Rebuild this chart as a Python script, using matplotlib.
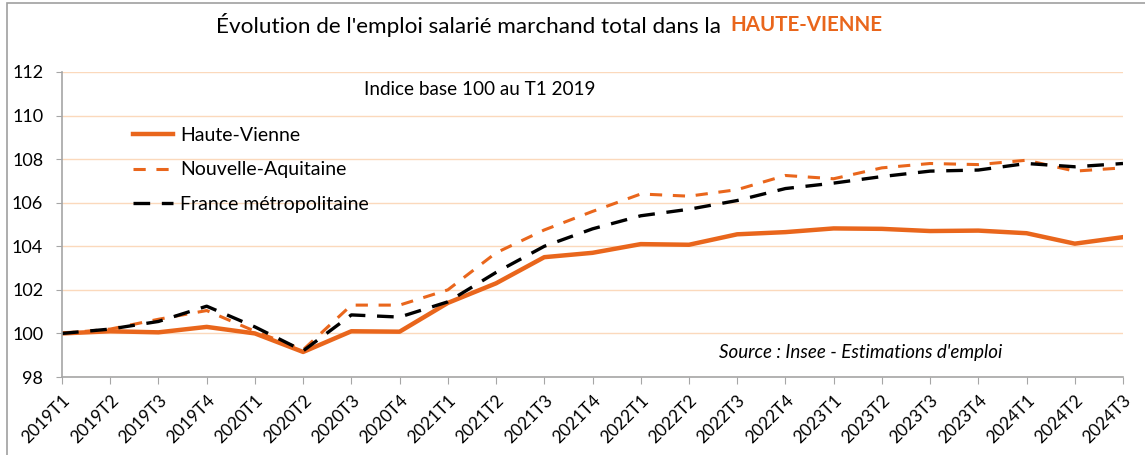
import matplotlib.pyplot as plt
from matplotlib.patches import Rectangle

# quarters
quarters = [f"{y}T{q}" for y in range(2019, 2025) for q in range(1, 5)][:23]

haute_vienne = [100.0, 100.1, 100.05, 100.3, 100.0, 99.15, 100.1, 100.08,
                101.4, 102.3, 103.5, 103.7, 104.1, 104.07, 104.55, 104.65,
                104.82, 104.8, 104.7, 104.72, 104.6, 104.12, 104.42]
nouvelle_aquitaine = [100.0, 100.2, 100.65, 101.05, 100.1, 99.25, 101.3, 101.3,
                      102.0, 103.7, 104.75, 105.6, 106.4, 106.3, 106.6, 107.25,
                      107.1, 107.6, 107.8, 107.75, 107.95, 107.45, 107.6]
france = [100.0, 100.2, 100.55, 101.25, 100.3, 99.2, 100.85, 100.75,
          101.45, 102.8, 104.0, 104.8, 105.4, 105.7, 106.1, 106.65,
          106.9, 107.2, 107.45, 107.5, 107.8, 107.65, 107.8]

orange = '#E9661C'
plt.rcParams['font.family'] = ['Lato', 'DejaVu Sans']

fig = plt.figure(figsize=(11.45, 4.55), dpi=100)
ax = fig.add_axes([62 / 1145, 78 / 455, (1123 - 62) / 1145, (377 - 72) / 455])

x = list(range(len(quarters)))
ax.plot(x, haute_vienne, color=orange, lw=3.2, label='Haute-Vienne')
ax.plot(x, nouvelle_aquitaine, color=orange, lw=2.2, dashes=(4, 3.5), label='Nouvelle-Aquitaine')
ax.plot(x, france, color='black', lw=2.4, dashes=(5, 3.5), label='France métropolitaine')

ax.set_xlim(0, len(quarters) - 1)
ax.set_ylim(98, 112)
ax.set_yticks(range(98, 113, 2))
ax.set_xticks(x)
ax.set_xticklabels(quarters, rotation=45, ha='right', rotation_mode='anchor', fontsize=12.5)
ax.tick_params(axis='y', labelsize=13, length=4.5, color='#A6A6A6', pad=9)
ax.tick_params(axis='x', length=5, color='#A6A6A6', pad=6)
ax.grid(axis='y', color='#FBD9BC', lw=1)
ax.set_axisbelow(True)
for s in ['top', 'right']:
    ax.spines[s].set_visible(False)
for s in ['left', 'bottom']:
    ax.spines[s].set_color('#A6A6A6')
    ax.spines[s].set_linewidth(1.2)

ax.legend(loc='upper left', bbox_to_anchor=(0.067, 0.82), frameon=False,
          fontsize=14, handlelength=2.05, handletextpad=0.36, labelspacing=0.9,
          borderaxespad=0, borderpad=0)

ax.text(0.394, 0.941, 'Indice base 100 au T1 2019', transform=ax.transAxes,
        ha='center', va='center', fontsize=13.6)
ax.text(0.753, 0.08, "Source : Insee - Estimations d'emploi", transform=ax.transAxes,
        ha='center', va='center', fontsize=13.5, style='italic')

fig.text(727 / 1145, 1 - 25 / 455, "Évolution de l'emploi salarié marchand total dans la ",
         ha='right', va='center', fontsize=16.2)
fig.text(730 / 1145, 1 - 25 / 455, 'HAUTE-VIENNE', ha='left', va='center',
         fontsize=14.8, fontweight='bold', color=orange)

fig.patches.append(Rectangle((7 / 1145, -0.05), 1.1, 1 - 3 / 455 + 0.05,
                             transform=fig.transFigure, fill=False,
                             edgecolor='#A0A0A0', lw=1.2))

fig.savefig('out.png', dpi=100)
